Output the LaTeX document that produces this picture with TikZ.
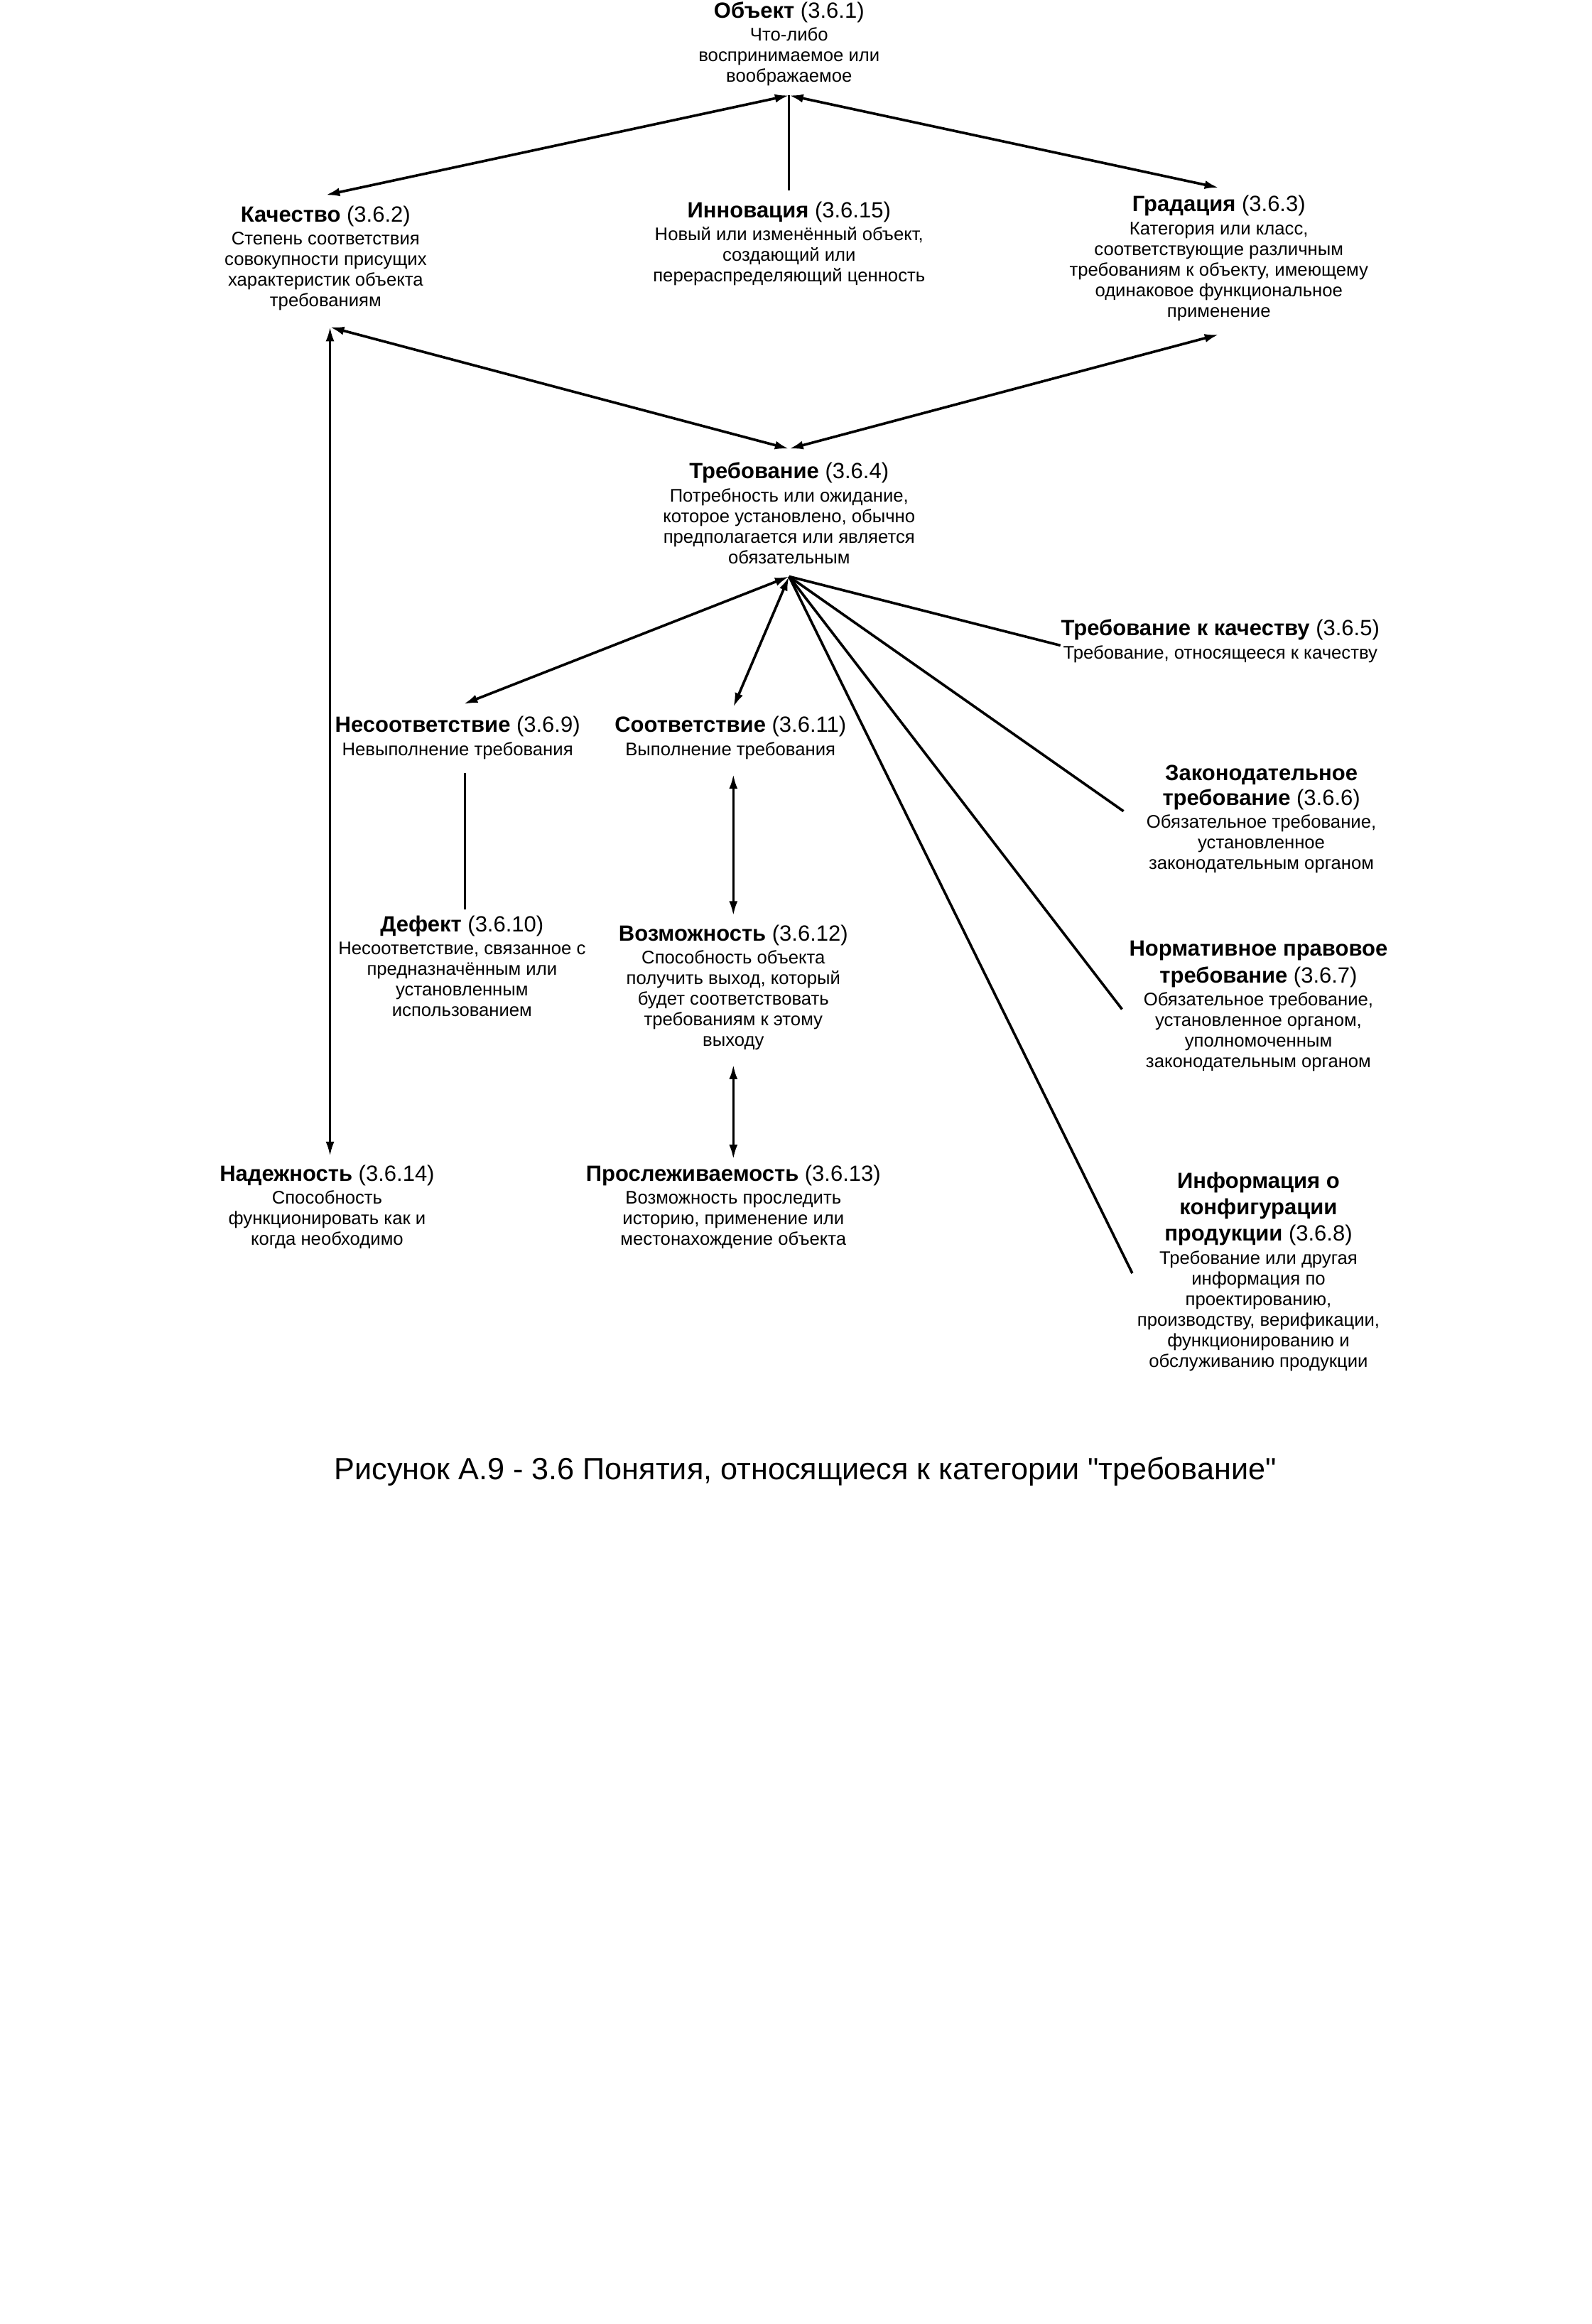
\documentclass[tikz,border=0pt]{standalone}
\usepackage{fontspec}
\setmainfont{Liberation Sans}[Ligatures=TeXOff]
\usetikzlibrary{arrows.meta,calc}
\begin{document}
\begin{tikzpicture}[x=0.51613pt,y=-0.51613pt,
  term/.style={align=center,inner sep=0pt,anchor=north,font=\fontsize{6.42}{7.25}\selectfont},
  captext/.style={inner sep=0pt,font=\fontsize{10.8}{12}\selectfont},
  dbl/.style={{Latex[length=5pt,width=3pt]}-{Latex[length=5pt,width=3pt]},line width=0.9pt},
  dbln/.style={{Latex[length=5pt,width=3pt]}-{Latex[length=5pt,width=3pt]},line width=0.75pt},
  linethick/.style={line width=0.9pt},
  linethin/.style={line width=0.7pt}]
\useasboundingbox (0,0) rectangle (1085,1584.3);
\newcommand\ttl[2]{{\fontsize{7.75}{8.2}\selectfont\textbf{#1} (#2)}}
\newcommand\tb[1]{{\fontsize{7.75}{8.2}\selectfont\textbf{#1}}}

\node[term] (obj) at (538,1) {\ttl{Объект}{3.6.1}\\[0.8pt]Что-либо\\воспринимаемое или\\воображаемое};
\node[term] (kach) at (222,140) {\ttl{Качество}{3.6.2}\\[0.8pt]Степень соответствия\\совокупности присущих\\характеристик объекта\\требованиям};
\node[term] (innov) at (538,137) {\ttl{Инновация}{3.6.15}\\[0.8pt]Новый или изменённый объект,\\создающий или\\перераспределяющий ценность};
\node[term] (grad) at (831,133) {\ttl{Градация}{3.6.3}\\[0.8pt]Категория или класс,\\соответствующие различным\\требованиям к объекту, имеющему\\одинаковое функциональное\\применение};
\node[term] (treb) at (538,315) {\ttl{Требование}{3.6.4}\\[0.8pt]Потребность или ожидание,\\которое установлено, обычно\\предполагается или является\\обязательным};
\node[term] (tk) at (832,422) {\ttl{Требование к качеству}{3.6.5}\\[0.8pt]Требование, относящееся к качеству};
\node[term] (nes) at (312,488) {\ttl{Несоответствие}{3.6.9}\\[0.8pt]Невыполнение требования};
\node[term] (sootv) at (498,488) {\ttl{Соответствие}{3.6.11}\\[0.8pt]Выполнение требования};
\node[term] (zak) at (860,521) {\tb{Законодательное}\\[1.5pt]\ttl{требование}{3.6.6}\\[0.8pt]Обязательное требование,\\установленное\\законодательным органом};
\node[term] (norm) at (858,641) {\tb{Нормативное правовое}\\[1.3pt]\ttl{требование}{3.6.7}\\[0.6pt]Обязательное требование,\\установленное органом,\\уполномоченным\\законодательным органом};
\node[term] (info) at (858,799) {\tb{Информация о}\\[2pt]\tb{конфигурации}\\[2pt]\ttl{продукции}{3.6.8}\\[0.8pt]Требование или другая\\информация по\\проектированию,\\производству, верификации,\\функционированию и\\обслуживанию продукции};
\node[term] (def) at (315,624) {\ttl{Дефект}{3.6.10}\\[0.8pt]Несоответствие, связанное с\\предназначённым или\\установленным\\использованием};
\node[term] (vozm) at (500,630) {\ttl{Возможность}{3.6.12}\\[0.8pt]Способность объекта\\получить выход, который\\будет соответствовать\\требованиям к этому\\выходу};
\node[term] (nad) at (223,794) {\ttl{Надежность}{3.6.14}\\[0.8pt]Способность\\функционировать как и\\когда необходимо};
\node[term] (prosl) at (500,794) {\ttl{Прослеживаемость}{3.6.13}\\[0.8pt]Возможность проследить\\историю, применение или\\местонахождение объекта};

\node[captext] (caption) at (549,1003) {Рисунок А.9 - 3.6 Понятия, относящиеся к категории "требование"};

% connector end points
\coordinate (objB) at (538,65);
\coordinate (kachT) at (222,133);
\coordinate (gradT) at (831,128);
\coordinate (innovT) at (538,130);
\coordinate (kachB) at (225,223);
\coordinate (gradB) at (831,228);
\coordinate (trebT) at (538,306);
\coordinate (trebB) at (538,393);
\coordinate (nesT) at (316,480);
\coordinate (sootvT) at (500,482);
\coordinate (tkL) at (723,440);
\coordinate (zakL) at (766,553);
\coordinate (normL) at (765,688);
\coordinate (infoL) at (772,868);
\coordinate (nesB) at (317,527);
\coordinate (defT) at (317,620);
\coordinate (sootvB) at (500,528);
\coordinate (vozmT) at (500,624);
\coordinate (vozmB) at (500,726);
\coordinate (proslT) at (500,790);
\coordinate (nadT) at (225,788);

\draw[dbl] (kachT) -- (objB);
\draw[dbl] (gradT) -- (objB);
\draw[linethin] (innovT) -- (objB);
\draw[dbl] (kachB) -- (trebT);
\draw[dbl] (gradB) -- (trebT);
\draw[dbl] (nesT) -- (trebB);
\draw[dbl] (sootvT) -- (trebB);
\draw[linethick] (trebB) -- (tkL);
\draw[linethick] (trebB) -- (zakL);
\draw[linethick] (trebB) -- (normL);
\draw[linethick] (trebB) -- (infoL);
\draw[linethin] (nesB) -- (defT);
\draw[dbln] (sootvB) -- (vozmT);
\draw[dbln] (vozmB) -- (proslT);
\draw[dbln] (kachB) -- (nadT);
\end{tikzpicture}
\end{document}
